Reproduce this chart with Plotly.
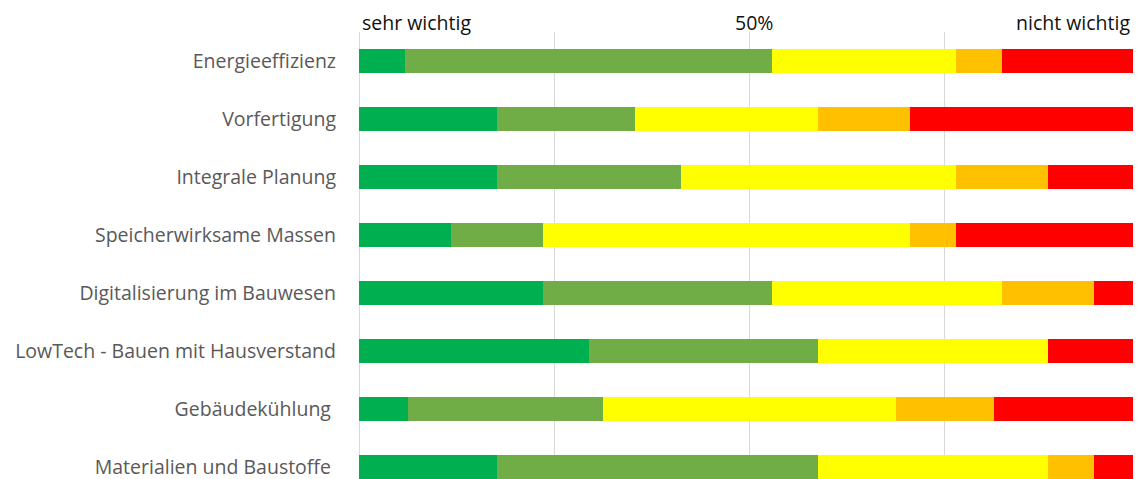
import plotly.graph_objects as go

categories = [
    "Energieeffizienz",
    "Vorfertigung",
    "Integrale Planung",
    "Speicherwirksame Massen",
    "Digitalisierung im Bauwesen",
    "LowTech - Bauen mit Hausverstand",
    "Gebäudekühlung\u00a0",
    "Materialien und Baustoffe\u00a0",
]
# answer counts per level (1 = sehr wichtig ... 5 = nicht wichtig)
level1 = [1, 3, 3, 2, 4, 5, 1, 3]
level2 = [8, 3, 4, 2, 5, 5, 4, 7]
level3 = [4, 4, 6, 8, 5, 5, 6, 5]
level4 = [1, 2, 2, 1, 2, 0, 2, 1]
level5 = [3, 5, 2, 4, 1, 2, 3, 1]
series = [level1, level2, level3, level4, level5]
colors = ["#00B050", "#70AD47", "#FFFF00", "#FFC000", "#FF0000"]
names = ["1", "2", "3", "4", "5"]

totals = [sum(v) for v in zip(*series)]

fig = go.Figure()
for vals, col, nm in zip(series, colors, names):
    pct = [100 * v / t for v, t in zip(vals, totals)]
    fig.add_trace(go.Bar(
        y=categories, x=pct, orientation="h", name=nm,
        marker=dict(color=col, line=dict(width=0)),
        hoverinfo="x+y",
    ))

# page body has an 8px margin, so the figure is 8px smaller and offsets reduced
fig.update_layout(
    barmode="stack",
    width=1133, height=471,
    margin=dict(l=351, r=1, t=24, b=0),
    paper_bgcolor="white", plot_bgcolor="white",
    showlegend=False,
    bargap=0.59,
    font=dict(family="Open Sans, Noto Sans, sans-serif"),
)
fig.update_xaxes(
    range=[0, 100], showticklabels=False, showgrid=True,
    gridcolor="#D9D9D9", gridwidth=1, dtick=25, tick0=0,
    zeroline=True, zerolinecolor="#D9D9D9", zerolinewidth=1,
    showline=False, fixedrange=True, automargin=False,
)
fig.update_yaxes(
    range=[7.21, -0.5], autorange=False,
    showgrid=False, zeroline=False, showline=False,
    tickfont=dict(size=19.5, color="#595959"),
    ticks="", ticklabelstandoff=22, automargin=False,
)

top_labels = [(0, "sehr wichtig", "left", 1), (50, "50%", "center", 4), (100, "nicht wichtig", "right", -8)]
for xv, txt, anc, shift in top_labels:
    fig.add_annotation(
        x=xv, y=1, xref="x", yref="paper", text=txt, showarrow=False,
        xanchor=anc, yanchor="bottom", xshift=shift, yshift=-6,
        font=dict(size=19.5, color="#111111"),
    )

fig.write_html("out.html")
